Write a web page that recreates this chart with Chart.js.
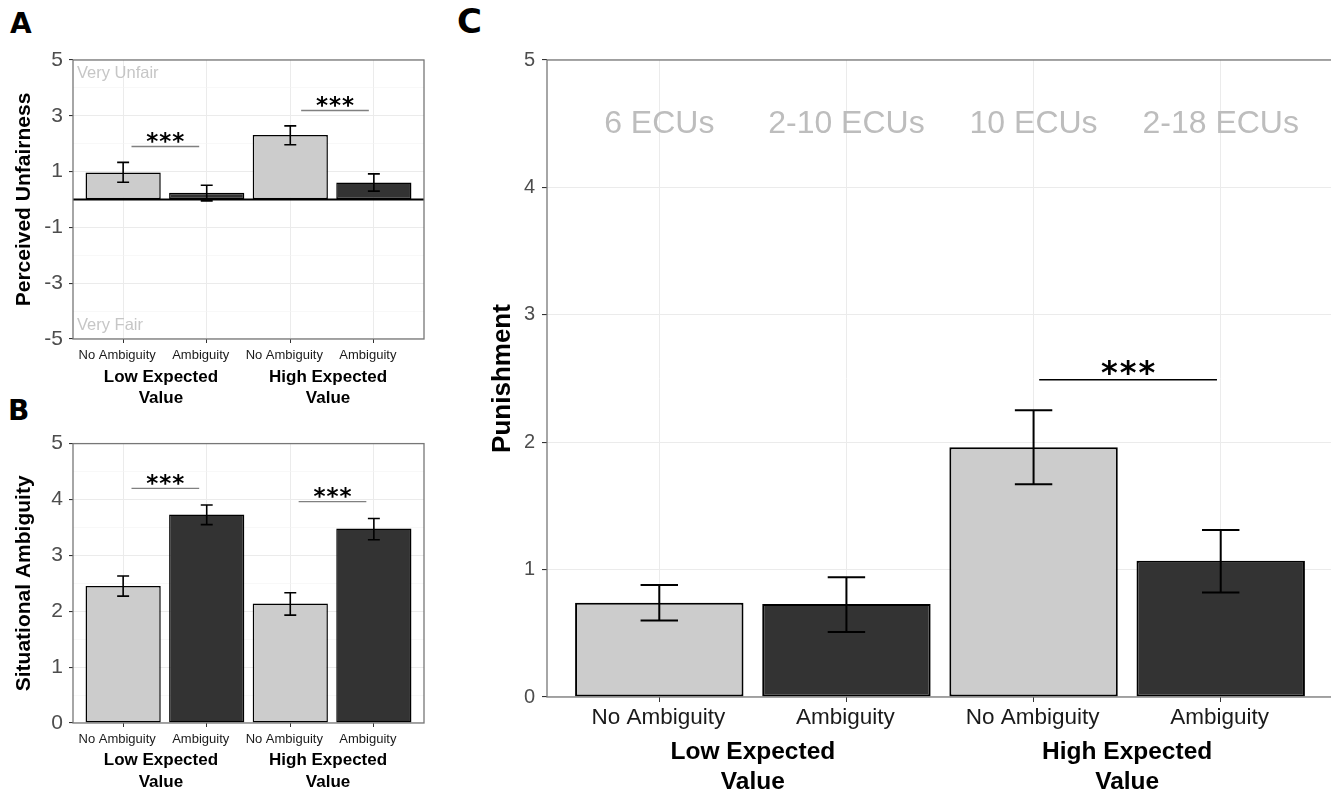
<!DOCTYPE html>
<html>
<head>
<meta charset="utf-8">
<script src="https://cdn.jsdelivr.net/npm/chart.js@4.4.1/dist/chart.umd.min.js"></script>
<style>
html, body { margin: 0; padding: 0; overflow: hidden; background: #fff; width: 1331px; height: 793px; }
.box { position: absolute; }
.tag { position: absolute; font: bold 28px "DejaVu Sans", sans-serif; line-height: 1; color: #000; }
</style>
</head>
<body>
<div class="tag" style="left:10px;top:10px">A</div>
<div class="tag" style="left:8px;top:397px">B</div>
<div class="tag" style="left:457px;top:4px;font-size:34px">C</div>
<div class="box" style="left:0;top:40px;width:440px;height:370px"><canvas id="chartA"></canvas></div>
<div class="box" style="left:0;top:425px;width:440px;height:368px"><canvas id="chartB"></canvas></div>
<div class="box" style="left:470px;top:40px;width:880px;height:753px"><canvas id="chartC"></canvas></div>
<script>
const SANS = '"Liberation Sans", Arial, sans-serif'

// shared categories
const conditions = ['No Ambiguity', 'Ambiguity', 'No Ambiguity', 'Ambiguity']
const groups = [['Low Expected', 'Value'], ['High Expected', 'Value']]
const groupPos = [1.5, 3.5]
const barColors = ['#cccccc', '#333333', '#cccccc', '#333333']

// A: perceived unfairness
const unfairMean = [0.97, 0.24, 2.31, 0.61]
const unfairLow = [0.62, -0.05, 1.96, 0.30]
const unfairHigh = [1.33, 0.51, 2.64, 0.92]
const unfairTicks = [-5, -3, -1, 1, 3, 5]
const unfairSigFrom = [1.1, 3.13]
const unfairSigTo = [1.91, 3.94]
const unfairSigY = [1.9, 3.19]
const unfairNotes = ['Very Unfair', 'Very Fair']
const unfairNoteY = [4.5, -4.5]

// B: situational ambiguity
const ambigMean = [2.45, 3.73, 2.14, 3.48]
const ambigLow = [2.27, 3.55, 1.93, 3.28]
const ambigHigh = [2.63, 3.90, 2.33, 3.66]
const ambigTicks = [0, 1, 2, 3, 4, 5]
const ambigSigFrom = [1.1, 3.1]
const ambigSigTo = [1.91, 3.91]
const ambigSigY = [4.2, 3.96]

// C: punishment
const punishMean = [0.74, 0.73, 1.96, 1.07]
const punishLow = [0.60, 0.51, 1.67, 0.82]
const punishHigh = [0.88, 0.94, 2.25, 1.31]
const punishTicks = [0, 1, 2, 3, 4, 5]
const punishSigFrom = [3.03]
const punishSigTo = [3.98]
const punishSigY = [2.49]
const ecuLabels = ['6 ECUs', '2-10 ECUs', '10 ECUs', '2-18 ECUs']
const ecuY = 4.5

function extras(o) {
  return {
    id: 'extras',
    afterDraw(chart) {
      const { ctx, chartArea: a, scales: { x, y } } = chart
      ctx.save()
      if (o.refLine !== undefined) {
        ctx.strokeStyle = '#000'
        ctx.lineWidth = 2
        ctx.beginPath()
        ctx.moveTo(a.left, y.getPixelForValue(o.refLine))
        ctx.lineTo(a.right, y.getPixelForValue(o.refLine))
        ctx.stroke()
      }
      // error bars
      ctx.strokeStyle = '#000'
      ctx.lineWidth = o.errWidth
      o.mean.forEach((_, i) => {
        const px = x.getPixelForValue(i + 1)
        const half = x.getPixelForValue(i + 1 + o.cap / 2) - px
        const lo = y.getPixelForValue(o.low[i]), hi = y.getPixelForValue(o.high[i])
        ctx.beginPath()
        ctx.moveTo(px, lo); ctx.lineTo(px, hi)
        ctx.moveTo(px - half, lo); ctx.lineTo(px + half, lo)
        ctx.moveTo(px - half, hi); ctx.lineTo(px + half, hi)
        ctx.stroke()
      })
      // significance brackets
      o.sigY.forEach((v, i) => {
        const x1 = x.getPixelForValue(o.sigFrom[i]), x2 = x.getPixelForValue(o.sigTo[i])
        const py = y.getPixelForValue(v)
        ctx.strokeStyle = o.sigColor
        ctx.lineWidth = 1.3
        ctx.beginPath()
        ctx.moveTo(x1, py); ctx.lineTo(x2, py)
        ctx.stroke()
        ctx.fillStyle = '#000'
        ctx.font = 'bold ' + o.sigFont + 'px "DejaVu Sans", sans-serif'
        ctx.letterSpacing = o.sigSpacing + 'px'
        ctx.textAlign = 'center'
        ctx.textBaseline = 'alphabetic'
        ctx.fillText('***', (x1 + x2) / 2 + o.sigSpacing / 2, py + o.sigFont * 0.1)
        ctx.letterSpacing = '0px'
      })
      // notes inside panel
      ctx.textBaseline = 'middle'
      if (o.notes) {
        ctx.fillStyle = '#c6c6c6'
        ctx.font = o.noteFont + 'px ' + SANS
        ctx.textAlign = 'left'
        o.notes.forEach((t, i) => ctx.fillText(t, a.left + 4, y.getPixelForValue(o.noteY[i])))
      }
      if (o.topLabels) {
        ctx.fillStyle = '#bdbdbd'
        ctx.font = o.topFont + 'px ' + SANS
        ctx.textAlign = 'center'
        o.topLabels.forEach((t, i) => ctx.fillText(t, x.getPixelForValue(i + 1), y.getPixelForValue(o.topY)))
      }
      // group labels under the axis
      ctx.fillStyle = '#000'
      ctx.font = 'bold ' + o.groupFont + 'px ' + SANS
      ctx.textAlign = 'center'
      groups.forEach((lines, g) => {
        const gx = x.getPixelForValue(groupPos[g]) + o.groupShift
        lines.forEach((t, k) => ctx.fillText(t, gx, a.bottom + o.groupY[k]))
      })
      // panel border
      ctx.strokeStyle = '#777'
      ctx.lineWidth = 1.3
      ctx.strokeRect(a.left, a.top, a.right - a.left, a.bottom - a.top)
      ctx.restore()
    }
  }
}

function panel(id, o) {
  const xs = o.mean.map((_, i) => i + 1)
  const major = c => c.tick && o.majorTicks.includes(c.tick.value)
  return new Chart(document.getElementById(id), {
    type: 'bar',
    data: {
      datasets: [{
        data: xs.map((v, i) => ({ x: v, y: o.mean[i] })),
        backgroundColor: barColors,
        borderColor: '#000',
        borderWidth: o.barBorder,
        borderSkipped: false,
        barPercentage: 0.9,
        categoryPercentage: 1
      }]
    },
    options: {
      responsive: true,
      maintainAspectRatio: false,
      animation: false,
      layout: { padding: o.padding },
      plugins: { legend: { display: false }, tooltip: { enabled: false } },
      scales: {
        x: {
          type: 'linear', min: 0.4, max: 4.6, offset: false,
          afterBuildTicks: s => { s.ticks = xs.map(v => ({ value: v })) },
          afterFit: s => { s.height = o.xHeight },
          grid: { offset: false, color: '#ebebeb', lineWidth: 1, tickColor: '#333', tickLength: o.tickLen },
          border: { display: false },
          ticks: {
            autoSkip: false, maxRotation: 0, padding: o.xPad, color: '#1a1a1a',
            labelOffset: o.labelShift,
            font: { family: SANS, size: o.xFont },
            callback: v => conditions[v - 1]
          }
        },
        y: {
          min: o.min, max: o.max,
          afterFit: s => { s.width = o.yWidth },
          grid: {
            color: c => major(c) ? '#ebebeb' : '#f4f4f4',
            lineWidth: c => major(c) ? 1.1 : 0.6,
            tickColor: c => major(c) ? '#333' : 'rgba(0,0,0,0)',
            tickLength: o.tickLen
          },
          border: { display: false },
          ticks: {
            stepSize: o.step, autoSkip: false, padding: o.yPad, color: '#4d4d4d',
            font: { family: SANS, size: o.yFont },
            callback: v => o.majorTicks.includes(v) ? String(v) : ''
          },
          title: {
            display: true, text: o.title, color: '#000',
            font: { family: SANS, size: o.titleFont, weight: 'bold' },
            padding: { top: o.titlePad, bottom: 0 }
          }
        }
      }
    },
    plugins: [extras(o)]
  })
}

panel('chartA', {
  mean: unfairMean, low: unfairLow, high: unfairHigh,
  min: -5, max: 5, step: 1, majorTicks: unfairTicks, refLine: 0,
  sigFrom: unfairSigFrom, sigTo: unfairSigTo, sigY: unfairSigY, sigColor: '#808080', sigFont: 23, sigSpacing: 1,
  notes: unfairNotes, noteY: unfairNoteY, noteFont: 16.5,
  title: 'Perceived Unfairness', titleFont: 21, titlePad: 12,
  padding: { top: 20, right: 16, left: 0, bottom: 0 }, yWidth: 73, xHeight: 71,
  tickLen: 4, yPad: 6, xPad: 5, yFont: 21, xFont: 13, labelShift: -6,
  groupFont: 17, groupY: [38, 59], groupShift: -4, cap: 0.143, errWidth: 1.6, barBorder: 1.5
})

panel('chartB', {
  mean: ambigMean, low: ambigLow, high: ambigHigh,
  min: 0, max: 5, step: 0.5, majorTicks: ambigTicks,
  sigFrom: ambigSigFrom, sigTo: ambigSigTo, sigY: ambigSigY, sigColor: '#808080', sigFont: 23, sigSpacing: 1,
  title: 'Situational Ambiguity', titleFont: 21, titlePad: 12,
  padding: { top: 18, right: 16, left: 0, bottom: 0 }, yWidth: 73, xHeight: 70,
  tickLen: 4, yPad: 6, xPad: 5, yFont: 21, xFont: 13, labelShift: -6,
  groupFont: 17, groupY: [37, 59], groupShift: -4, cap: 0.143, errWidth: 1.6, barBorder: 1.5
})

panel('chartC', {
  mean: punishMean, low: punishLow, high: punishHigh,
  min: 0, max: 5, step: 1, majorTicks: punishTicks,
  sigFrom: punishSigFrom, sigTo: punishSigTo, sigY: punishSigY, sigColor: '#000', sigFont: 32, sigSpacing: 2,
  topLabels: ecuLabels, topY: ecuY, topFont: 32,
  title: 'Punishment', titleFont: 26, titlePad: 17,
  padding: { top: 20, right: 17, left: 0, bottom: 0 }, yWidth: 77, xHeight: 96,
  tickLen: 5, yPad: 7, xPad: 2, yFont: 20, xFont: 22.5, labelShift: -1,
  groupFont: 24.5, groupY: [55, 85], groupShift: 0, cap: 0.2, errWidth: 2, barBorder: 2
})
</script>
</body>
</html>
